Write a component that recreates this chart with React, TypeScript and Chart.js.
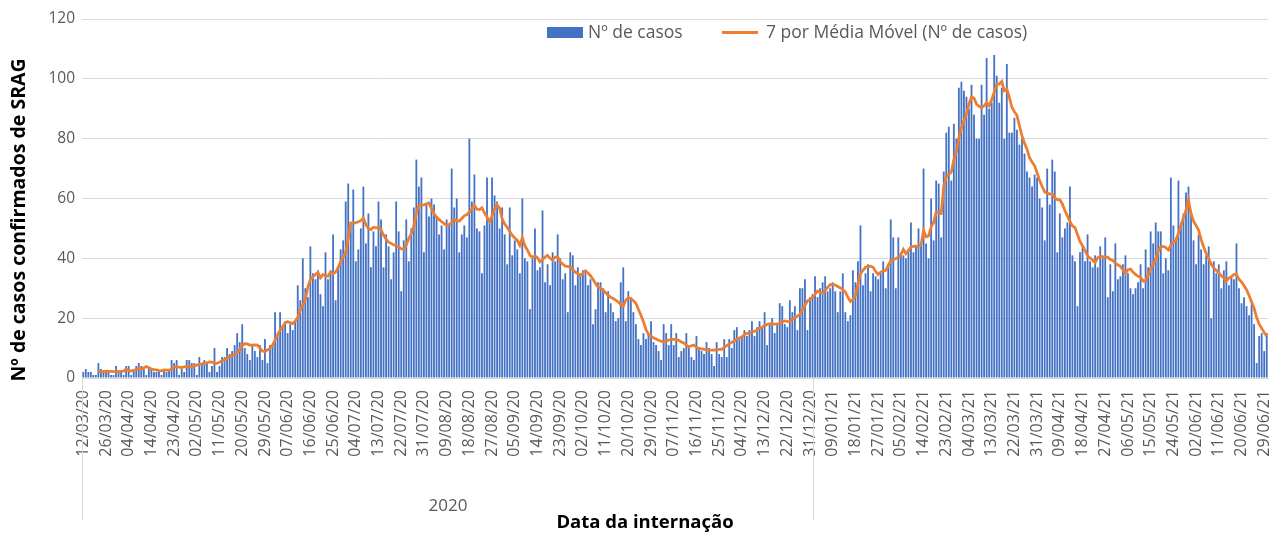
import React, { useEffect, useRef } from 'react';
import { Chart, registerables } from 'chart.js';

Chart.register(...registerables);

// ---------- DATA ----------
// First categories before the daily run (as read from the axis labels spacing)
const firstDates: string[] = ['12/03/20', '13/03/20', '16/03/20', '17/03/20', '18/03/20', '19/03/20', '20/03/20', '23/03/20', '24/03/20'];
const dailyStart: [number, number, number] = [2020, 2, 26];
const skippedDates: string[] = ['12/04/20'];

const casos: number[] = [
  2, 3, 2, 2, 1, 1, 5, 3, 2, 2,
  2, 1, 1, 4, 2, 2, 1, 4, 4, 1,
  3, 4, 5, 4, 3, 1, 3, 3, 2, 2,
  2, 1, 3, 2, 3, 6, 5, 6, 1, 3,
  2, 6, 6, 5, 5, 1, 7, 5, 6, 5,
  2, 4, 10, 2, 4, 7, 7, 10, 8, 9,
  11, 15, 12, 18, 10, 8, 6, 11, 9, 7,
  11, 6, 13, 5, 11, 11, 22, 14, 22, 17,
  19, 15, 18, 16, 19, 31, 26, 40, 30, 27,
  44, 35, 33, 36, 28, 24, 42, 33, 36, 48,
  26, 37, 43, 46, 59, 65, 51, 63, 39, 43,
  50, 64, 45, 55, 37, 49, 44, 59, 53, 37,
  48, 44, 33, 42, 59, 49, 29, 46, 53, 39,
  50, 57, 73, 64, 67, 42, 58, 54, 60, 58,
  54, 48, 51, 43, 53, 51, 70, 57, 60, 42,
  48, 51, 47, 80, 59, 68, 50, 49, 35, 51,
  67, 52, 67, 61, 59, 50, 57, 48, 38, 57,
  41, 46, 43, 35, 60, 40, 39, 23, 40, 50,
  36, 37, 56, 32, 38, 31, 42, 39, 48, 40,
  33, 35, 22, 42, 41, 31, 37, 35, 36, 35,
  31, 33, 18, 23, 32, 32, 30, 22, 29, 25,
  22, 19, 20, 32, 37, 19, 29, 27, 22, 18,
  13, 11, 15, 13, 15, 19, 12, 11, 9, 6,
  18, 15, 11, 18, 11, 15, 7, 9, 10, 15,
  11, 7, 6, 14, 10, 9, 8, 12, 10, 8,
  4, 12, 8, 7, 13, 7, 13, 10, 16, 17,
  13, 14, 16, 14, 16, 19, 14, 17, 19, 17,
  22, 11, 18, 20, 15, 18, 25, 24, 18, 17,
  26, 22, 24, 16, 30, 30, 33, 16, 27, 28,
  34, 27, 30, 32, 34, 29, 30, 32, 29, 22,
  29, 35, 22, 19, 21, 36, 32, 39, 51, 31,
  35, 38, 29, 35, 34, 33, 35, 39, 30, 38,
  53, 47, 30, 47, 42, 41, 40, 43, 52, 42,
  44, 50, 44, 70, 45, 40, 60, 46, 66, 65,
  47, 69, 82, 84, 66, 85, 80, 97, 99, 96,
  94, 90, 98, 88, 80, 80, 98, 88, 107, 90,
  92, 108, 101, 92, 97, 80, 105, 82, 82, 87,
  83, 78, 80, 75, 69, 67, 64, 68, 67, 60,
  57, 46, 70, 58, 73, 69, 42, 55, 47, 50,
  52, 64, 41, 39, 24, 42, 44, 39, 48, 39,
  37, 41, 37, 44, 40, 47, 27, 38, 29, 45,
  33, 34, 38, 41, 35, 30, 28, 30, 32, 38,
  30, 43, 37, 49, 45, 52, 49, 49, 35, 40,
  36, 67, 51, 47, 66, 52, 55, 62, 64, 55,
  46, 38, 48, 43, 38, 41, 44, 20, 39, 35,
  38, 30, 36, 39, 31, 34, 33, 45, 30, 25,
  27, 24, 21, 25, 18, 5, 14, 15, 9, 15,
];

const mediaMovel: (number | null)[] = [
  null, null, null, null, null, null, 2.3, 2.2, 2.2, 2.3,
  2.2, 2.2, 2.1, 2.3, 2.2, 2.2, 2.3, 3.0, 2.6, 2.3,
  2.6, 2.8, 3.2, 3.0, 3.4, 3.8, 3.4, 3.0, 2.8, 2.7,
  2.5, 2.4, 2.7, 2.6, 2.6, 3.0, 3.6, 3.8, 3.6, 3.5,
  3.7, 3.8, 3.8, 3.7, 4.0, 4.3, 4.6, 4.7, 4.9, 5.1,
  5.4, 5.3, 5.0, 4.9, 5.3, 5.8, 6.1, 6.6, 7.1, 7.4,
  7.9, 8.4, 9.4, 10.8, 11.5, 11.4, 11.0, 11.0, 11.1, 11.0,
  10.0, 9.0, 8.8, 9.4, 9.9, 11.0, 12.7, 14.5, 16.0, 17.2,
  18.4, 18.9, 18.5, 18.2, 19.0, 20.2, 22.7, 24.5, 26.0, 30.5,
  33.0, 33.8, 34.6, 35.3, 33.5, 34.6, 34.2, 34.0, 35.4, 34.8,
  35.4, 37.0, 38.9, 40.4, 42.0, 46.5, 51.8, 51.6, 51.9, 52.2,
  52.6, 53.5, 51.3, 50.0, 49.6, 50.4, 50.2, 50.4, 49.5, 47.8,
  46.4, 45.4, 45.0, 44.5, 44.2, 43.8, 43.2, 43.0, 44.4, 46.6,
  48.3, 50.8, 55.0, 57.7, 57.8, 57.9, 58.2, 58.5, 56.6, 55.0,
  53.8, 52.9, 52.3, 51.6, 51.0, 51.3, 52.0, 53.1, 52.6, 52.4,
  53.3, 54.2, 54.6, 55.5, 56.5, 57.7, 56.4, 56.3, 56.9, 55.2,
  53.8, 52.2, 54.2, 56.5, 57.9, 56.8, 53.2, 51.5, 50.4, 49.0,
  47.7, 46.8, 46.0, 44.3, 46.9, 44.2, 42.8, 41.0, 40.4, 40.8,
  40.2, 38.8, 39.6, 40.4, 41.0, 40.0, 39.4, 40.4, 40.6, 38.8,
  38.1, 37.4, 37.3, 37.0, 36.3, 35.4, 34.8, 34.3, 35.0, 35.8,
  35.1, 34.2, 33.0, 31.6, 30.4, 30.0, 29.4, 28.5, 27.7, 27.0,
  26.6, 26.0, 25.4, 24.6, 24.0, 26.0, 26.8, 26.6, 25.8, 25.0,
  23.0, 21.0, 18.8, 16.2, 14.6, 14.0, 13.4, 13.0, 12.6, 12.3,
  12.0, 12.3, 12.7, 12.9, 12.9, 12.8, 12.6, 12.0, 11.7, 10.9,
  10.4, 10.8, 11.0, 10.3, 9.9, 9.7, 9.6, 9.4, 9.3, 9.3,
  9.3, 9.5, 9.6, 9.6, 10.2, 10.8, 11.4, 11.9, 12.4, 13.0,
  13.4, 13.8, 14.5, 14.9, 15.1, 15.3, 15.6, 16.1, 16.6, 17.0,
  17.5, 17.9, 18.2, 18.1, 18.0, 18.1, 18.2, 18.7, 19.1, 18.9,
  18.8, 19.6, 20.2, 20.7, 21.3, 22.8, 24.3, 25.8, 26.3, 26.9,
  28.0, 29.1, 28.6, 28.4, 29.3, 30.3, 31.2, 31.3, 31.1, 30.6,
  30.1, 29.5, 28.8, 27.0, 25.6, 26.2, 27.5, 31.5, 34.8, 36.0,
  37.0, 37.2, 37.4, 37.0, 35.6, 34.6, 35.4, 35.8, 36.0, 37.6,
  39.2, 39.5, 39.9, 40.4, 41.2, 43.0, 41.6, 42.6, 43.8, 44.0,
  44.1, 44.2, 44.5, 49.3, 47.2, 47.5, 50.5, 52.0, 55.4, 55.2,
  55.0, 64.0, 67.2, 68.0, 68.8, 73.0, 75.5, 80.4, 83.6, 86.0,
  88.2, 91.6, 94.0, 93.5, 91.5, 90.8, 90.4, 91.0, 92.1, 91.0,
  93.0, 95.5, 98.2, 98.2, 99.1, 96.0, 96.6, 93.8, 90.5, 89.0,
  87.8, 84.3, 81.0, 78.5, 76.5, 73.6, 72.2, 71.0, 68.6, 66.0,
  64.0, 62.2, 61.8, 61.5, 61.6, 60.2, 59.6, 59.6, 58.2, 56.0,
  54.2, 52.3, 50.8, 50.3, 48.0, 45.6, 44.2, 42.6, 40.8, 40.1,
  39.4, 38.6, 40.2, 40.7, 40.6, 40.4, 40.4, 39.6, 39.3, 38.4,
  37.8, 37.3, 36.2, 35.0, 36.2, 36.4, 35.4, 34.6, 34.0, 33.7,
  32.4, 32.6, 34.3, 36.5, 37.9, 39.8, 42.4, 43.8, 44.0, 43.6,
  42.8, 44.4, 45.3, 46.0, 48.4, 51.0, 53.6, 56.0, 59.5, 55.0,
  52.4, 51.0, 49.4, 46.3, 43.8, 41.7, 40.0, 38.0, 36.8, 36.0,
  35.1, 34.2, 33.4, 32.4, 33.4, 33.9, 34.6, 34.6, 33.0, 32.1,
  30.9, 29.5, 27.6, 25.4, 23.3, 20.2, 18.0, 16.6, 15.2, 14.0,
];

const tickEvery = 9;
const yMin = 0;
const yMax = 120;
const yStep = 20;
const groupLabel = '2020';
const lastDateOfGroup = '31/12/20';
const seriesBarLabel = 'Nº de casos';
const seriesLineLabel = '7 por Média Móvel (Nº de casos)';
const yTitle = 'Nº de casos confirmados de SRAG';
const xTitle = 'Data da internação';

function fmt(d: Date): string {
  const dd = String(d.getUTCDate()).padStart(2, '0');
  const mm = String(d.getUTCMonth() + 1).padStart(2, '0');
  const yy = String(d.getUTCFullYear()).slice(2);
  return `${dd}/${mm}/${yy}`;
}

function buildCategories(n: number): string[] {
  const out = [...firstDates];
  let t = Date.UTC(dailyStart[0], dailyStart[1], dailyStart[2]);
  while (out.length < n) {
    const s = fmt(new Date(t));
    if (!skippedDates.includes(s)) out.push(s);
    t += 86400000;
  }
  return out;
}

const categories = buildCategories(casos.length);

// ---------- STYLE ----------
const FONT = '"Open Sans", Lato, sans-serif';
const BLUE = '#4472C4';
const ORANGE = '#ED7D31';
const GRID = '#D9D9D9';
const TXT = '#595959';

const overlayPlugin = {
  id: 'overlay',
  afterDraw(chart: any) {
    const { ctx, chartArea, scales } = chart;
    const xs = scales.x;
    ctx.save();
    // y title
    ctx.save();
    ctx.font = `bold 19.5px ${FONT}`;
    ctx.fillStyle = '#000000';
    ctx.textAlign = 'center';
    ctx.textBaseline = 'middle';
    ctx.translate(19, 220);
    ctx.rotate(-Math.PI / 2);
    ctx.fillText(yTitle, 0, 0);
    ctx.restore();

    // group separators
    const idx = categories.indexOf(lastDateOfGroup);
    const bx = Math.round((xs.getPixelForValue(idx) + xs.getPixelForValue(idx + 1)) / 2) + 2.5;
    const lx = Math.round(chartArea.left) + 0.5;
    ctx.strokeStyle = GRID;
    ctx.lineWidth = 1;
    ctx.beginPath();
    ctx.moveTo(lx, chartArea.bottom);
    ctx.lineTo(lx, 520);
    ctx.moveTo(bx, chartArea.bottom);
    ctx.lineTo(bx, 520);
    ctx.stroke();

    ctx.font = `17px ${FONT}`;
    ctx.fillStyle = TXT;
    ctx.textAlign = 'center';
    ctx.textBaseline = 'middle';
    ctx.fillText(groupLabel, (lx + bx) / 2, 506);

    // x title
    ctx.font = `bold 18.5px ${FONT}`;
    ctx.fillStyle = '#000000';
    ctx.fillText(xTitle, 645, 523);

    // legend
    ctx.textAlign = 'left';
    ctx.font = `17.5px ${FONT}`;
    ctx.fillStyle = BLUE;
    ctx.fillRect(547, 27, 36, 11);
    ctx.fillStyle = TXT;
    ctx.fillText(seriesBarLabel, 588, 33);
    ctx.strokeStyle = ORANGE;
    ctx.lineWidth = 3;
    ctx.beginPath();
    ctx.moveTo(722, 32.5);
    ctx.lineTo(758, 32.5);
    ctx.stroke();
    ctx.fillText(seriesLineLabel, 766, 33);
    ctx.restore();
  },
};

export default function App() {
  const ref = useRef<HTMLCanvasElement | null>(null);
  useEffect(() => {
    document.body.style.margin = '0';
    const canvas = ref.current;
    if (!canvas) return;
    const chart = new Chart(canvas, {
      type: 'bar',
      data: {
        labels: categories,
        datasets: [
          {
            type: 'line',
            label: seriesLineLabel,
            data: mediaMovel,
            borderColor: ORANGE,
            backgroundColor: ORANGE,
            borderWidth: 2.75,
            pointRadius: 0,
            tension: 0,
            spanGaps: false,
            order: 0,
          } as any,
          {
            type: 'bar',
            label: seriesBarLabel,
            data: casos,
            backgroundColor: BLUE,
            borderWidth: 0,
            barPercentage: 0.72,
            categoryPercentage: 1,
            order: 1,
          },
        ],
      },
      options: {
        responsive: false,
        animation: false,
        devicePixelRatio: 1,
        layout: { padding: { top: 19, right: 2, left: 0, bottom: 0 } },
        plugins: { legend: { display: false }, tooltip: { enabled: false } },
        scales: {
          x: {
            type: 'category',
            offset: true,
            grid: { display: false },
            border: { display: true, color: GRID },
            ticks: {
              autoSkip: false,
              maxRotation: 90,
              minRotation: 90,
              padding: 4,
              color: TXT,
              font: { family: FONT, size: 16 },
              callback: (_v: any, i: number) => (i % tickEvery === 0 ? categories[i] : ''),
            },
            afterFit: (s: any) => {
              s.height = 533 - 378;
              s.paddingLeft = 0;
              s.paddingRight = 0;
            },
          },
          y: {
            min: yMin,
            max: yMax,
            ticks: { stepSize: yStep, padding: 7, color: TXT, font: { family: FONT, size: 15.5 } },
            grid: { color: GRID, drawTicks: false },
            border: { display: false },
            afterFit: (s: any) => {
              s.width = 82;
            },
          },
        },
      },
      plugins: [overlayPlugin],
    });
    return () => chart.destroy();
  }, []);
  return (
    <div style={{ width: 1270, height: 533, position: 'relative', background: '#fff' }}>
      <canvas ref={ref} width={1270} height={533} style={{ display: 'block' }} />
    </div>
  );
}
